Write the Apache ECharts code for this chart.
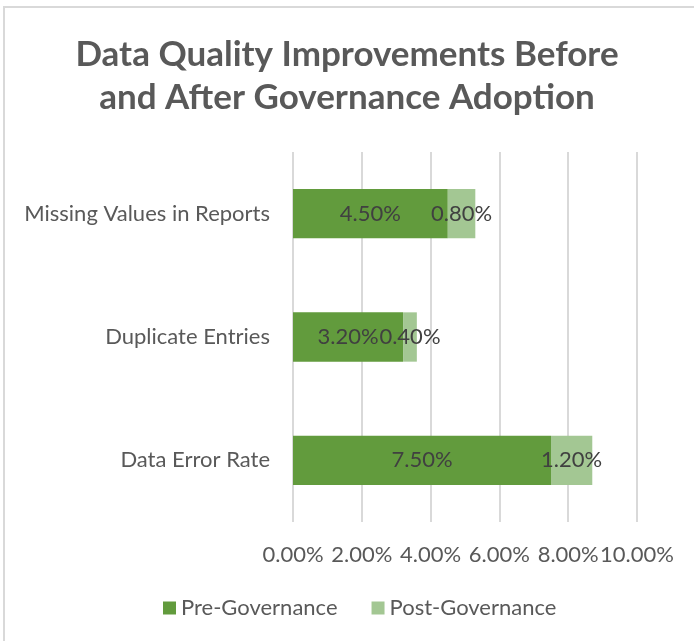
<!DOCTYPE html>
<html>
<head>
<meta charset="utf-8">
<script src="https://cdn.jsdelivr.net/npm/echarts@6/dist/echarts.min.js"></script>
<style>
  html, body { margin: 0; padding: 0; background: #fff; }
  .chart-container {
    position: absolute;
    left: 3px;
    top: 6px;
    width: 700px;
    height: 650px;
    border-left: 2px solid #d9d9d9;
    border-top: 2px solid #d9d9d9;
  }
  #barChart { position: absolute; left: 0; top: 0; width: 694px; height: 641px; }
</style>
</head>
<body>
<div class="chart-container"></div>
<div id="barChart"></div>
<script>
// categories top to bottom
const categories = ['Missing Values in Reports', 'Duplicate Entries', 'Data Error Rate']
const preGovernance = [4.5, 3.2, 7.5]
const postGovernance = [0.8, 0.4, 1.2]
const xTicks = [0, 2, 4, 6, 8, 10]

const font = 'Lato, "Open Sans", sans-serif'
const pct = v => Number(v).toFixed(2) + '%'

let option = {
  color: ['#629B3D', '#A3C793'],
  animation: false,
  title: {
    text: 'Data Quality Improvements Before\nand After Governance Adoption',
    left: 'center',
    top: 28,
    textStyle: {
      color: '#595959',
      fontFamily: font,
      fontWeight: 'bold',
      fontSize: 35,
      lineHeight: 43
    }
  },
  legend: {
    bottom: 17,
    left: 158,
    itemWidth: 13,
    itemHeight: 13,
    itemGap: 34,
    icon: 'rect',
    textStyle: { color: '#595959', fontFamily: font, fontSize: 22 },
    data: ['Pre-Governance', 'Post-Governance']
  },
  grid: {
    left: 293,
    right: 57,
    top: 152,
    bottom: 119,
    containLabel: false
  },
  xAxis: {
    type: 'value',
    min: xTicks[0],
    max: xTicks[xTicks.length - 1],
    interval: 2,
    axisLine: { show: false },
    axisTick: { show: false },
    splitLine: { lineStyle: { color: '#d9d9d9', width: 2 } },
    axisLabel: {
      margin: 22,
      color: '#595959',
      fontFamily: font,
      fontSize: 22,
      formatter: v => pct(v)
    }
  },
  yAxis: {
    type: 'category',
    inverse: true,
    data: categories,
    axisLine: { show: false },
    axisTick: { show: false },
    axisLabel: {
      margin: 23,
      color: '#595959',
      fontFamily: font,
      fontSize: 22
    }
  },
  series: [
    {
      name: 'Pre-Governance',
      type: 'bar',
      stack: 'total',
      barWidth: '40%',
      data: preGovernance,
      label: {
        show: true,
        position: 'inside',
        color: '#404040',
        fontFamily: font,
        fontSize: 22,
        formatter: p => pct(p.value)
      }
    },
    {
      name: 'Post-Governance',
      type: 'bar',
      stack: 'total',
      barWidth: '40%',
      data: postGovernance,
      label: {
        show: true,
        position: 'inside',
        color: '#404040',
        fontFamily: font,
        fontSize: 22,
        formatter: p => pct(p.value)
      }
    }
  ]
}

let myChart = echarts.init(document.getElementById('barChart'))
myChart.setOption(option)
</script>
</body>
</html>
